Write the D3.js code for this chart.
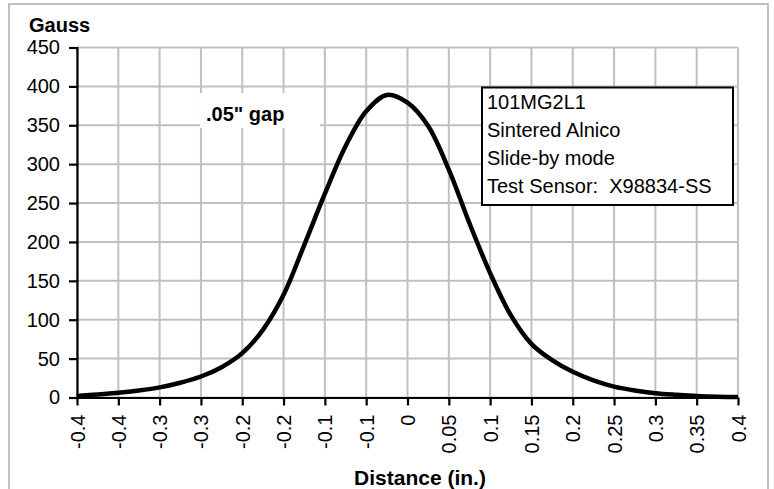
<!DOCTYPE html>
<html>
<head>
<meta charset="utf-8">
<script src="https://cdn.jsdelivr.net/npm/d3@7"></script>
<style>
    body { margin: 0; background: #fff; }
    text { font-family: "Liberation Sans", Arial, sans-serif; fill: #000; }
</style>
</head>
<body>
<div id="chart"></div>
<script>
// Datos
const xValues = [-0.4, -0.375, -0.35, -0.325, -0.3, -0.275, -0.25, -0.225, -0.2, -0.175, -0.15, -0.125, -0.1, -0.075, -0.05, -0.025,
    0, 0.025, 0.05, 0.075, 0.1, 0.125, 0.15, 0.175, 0.2, 0.225, 0.25, 0.275, 0.3, 0.325, 0.35, 0.375, 0.4];
const gaussValues = [2, 4, 6, 9, 13, 19, 27, 39, 57, 87, 132, 196, 262, 323, 368, 389,
    379, 349, 293, 224, 160, 106, 69, 48, 33, 22, 14, 9, 5.5, 3.5, 2, 1, 0.5];

const xTicks = [-0.4, -0.35, -0.3, -0.25, -0.2, -0.15, -0.1, -0.05, 0, 0.05, 0.1, 0.15, 0.2, 0.25, 0.3, 0.35, 0.4];
const xTickLabels = ['-0.4', '-0.4', '-0.3', '-0.3', '-0.2', '-0.2', '-0.1', '-0.1', '0', '0.05', '0.1', '0.15', '0.2', '0.25', '0.3', '0.35', '0.4'];
const yTicks = [0, 50, 100, 150, 200, 250, 300, 350, 400, 450];

const legendLines = ['101MG2L1', 'Sintered Alnico', 'Slide-by mode', 'Test Sensor:  X98834-SS'];

const width = 774, height = 489;
const plot = { left: 77, right: 738, top: 47.5, bottom: 397.5 };

const svg = d3.select('#chart').append('svg')
    .attr('width', width)
    .attr('height', height);

// borde exterior
svg.append('rect')
    .attr('x', 9).attr('y', 4)
    .attr('width', 759).attr('height', 500)
    .attr('fill', '#fff')
    .attr('stroke', '#c0c0c0')
    .attr('stroke-width', 2);

const x = d3.scaleLinear().domain([-0.4, 0.4]).range([plot.left, plot.right]);
const y = d3.scaleLinear().domain([0, 450]).range([plot.bottom, plot.top]);

// rejilla
svg.append('g').selectAll('line')
    .data(xTicks)
    .enter().append('line')
    .attr('x1', d => x(d)).attr('x2', d => x(d))
    .attr('y1', plot.top).attr('y2', plot.bottom)
    .attr('stroke', '#c0c0c0').attr('stroke-width', 2);

svg.append('g').selectAll('line')
    .data(yTicks)
    .enter().append('line')
    .attr('x1', plot.left).attr('x2', plot.right)
    .attr('y1', d => y(d)).attr('y2', d => y(d))
    .attr('stroke', '#c0c0c0').attr('stroke-width', 2);

// eje Y
const yAxis = svg.append('g')
    .attr('transform', `translate(${plot.left},0)`)
    .call(d3.axisLeft(y).tickValues(yTicks).tickSize(8).tickPadding(9));
yAxis.select('.domain').attr('stroke', '#000').attr('stroke-width', 2.2);
yAxis.selectAll('.tick line').attr('stroke', '#000').attr('stroke-width', 2.2);
yAxis.selectAll('.tick text')
    .attr('font-size', 20)
    .attr('font-family', '"Liberation Sans", Arial, sans-serif')
    .attr('fill', '#000');

// eje X
const xAxis = svg.append('g')
    .attr('transform', `translate(0,${plot.bottom})`)
    .call(d3.axisBottom(x).tickValues(xTicks).tickSize(8).tickSizeOuter(0)
        .tickFormat((d, i) => xTickLabels[i]));
xAxis.select('.domain').attr('stroke', '#000').attr('stroke-width', 2.2);
xAxis.selectAll('.tick line').attr('stroke', '#000').attr('stroke-width', 2.2);
xAxis.selectAll('.tick text')
    .attr('font-size', 20)
    .attr('font-family', '"Liberation Sans", Arial, sans-serif')
    .attr('fill', '#000')
    .attr('transform', 'translate(0,17) rotate(-90)')
    .attr('x', 0).attr('y', 0)
    .attr('dy', '0.35em')
    .style('text-anchor', 'end');

// curva
const line = d3.line()
    .x((d, i) => x(xValues[i]))
    .y(d => y(d))
    .curve(d3.curveCatmullRom.alpha(0.5));

svg.append('path')
    .datum(gaussValues)
    .attr('d', line)
    .attr('fill', 'none')
    .attr('stroke', '#000')
    .attr('stroke-width', 4.5)
    .attr('stroke-linejoin', 'round');

// etiqueta .05" gap
svg.append('rect')
    .attr('x', 200).attr('y', 93)
    .attr('width', 120).attr('height', 35)
    .attr('fill', '#fff');
svg.append('text')
    .attr('x', 206).attr('y', 121)
    .attr('font-size', 20)
    .attr('font-weight', 'bold')
    .text('.05" gap');

// leyenda
svg.append('rect')
    .attr('x', 482).attr('y', 87.5)
    .attr('width', 251).attr('height', 117.5)
    .attr('fill', '#fff')
    .attr('stroke', '#000')
    .attr('stroke-width', 2);

svg.append('g').selectAll('text')
    .data(legendLines)
    .enter().append('text')
    .attr('x', 487)
    .attr('y', (d, i) => 108.5 + i * 28.3)
    .attr('font-size', 20)
    .style('white-space', 'pre')
    .text(d => d);

// titulos
svg.append('text')
    .attr('x', 29).attr('y', 32)
    .attr('font-size', 20)
    .attr('font-weight', 'bold')
    .text('Gauss');

svg.append('text')
    .attr('x', 420).attr('y', 485)
    .attr('font-size', 21)
    .attr('font-weight', 'bold')
    .style('text-anchor', 'middle')
    .text('Distance (in.)');
</script>
</body>
</html>
